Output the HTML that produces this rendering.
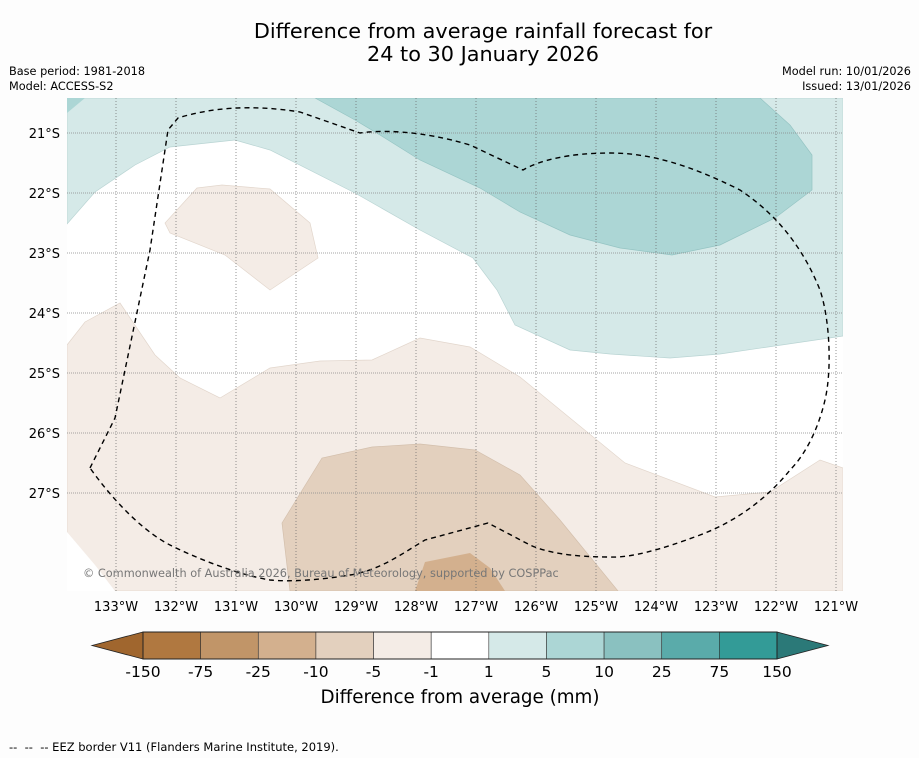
<!DOCTYPE html>
<html><head><meta charset="utf-8"><style>
body{margin:0;background:#fdfdfd;}
svg{display:block;font-family:"DejaVu Sans","Liberation Sans",sans-serif;}
</style></head><body>
<svg id="chart" width="919" height="758">
<rect width="919" height="758" fill="#fdfdfd"/>
<text x="483" y="38" text-anchor="middle" font-size="20.8">Difference from average rainfall forecast for</text>
<text x="483" y="61" text-anchor="middle" font-size="20.8">24 to 30 January 2026</text>
<text x="9" y="75" font-size="11.3">Base period: 1981-2018</text>
<text x="9" y="90" font-size="11.3">Model: ACCESS-S2</text>
<text x="911" y="75" font-size="11.3" text-anchor="end">Model run: 10/01/2026</text>
<text x="911" y="90" font-size="11.3" text-anchor="end">Issued: 13/01/2026</text>
<defs><clipPath id="mc"><rect x="67" y="98" width="776" height="493"/></clipPath></defs>
<g clip-path="url(#mc)">
<rect x="67" y="98" width="776" height="493" fill="#ffffff"/>
<polygon fill="#d5e9e8" stroke="#b9d4d3" stroke-width="0.7" points="67,98 843,98 843,336 720,354 670,358 610,354 570,350 515,325 497,290 473,258 420,230 355,193 270,150 235,140 170,147 135,165 95,192 67,224"/>
<polygon fill="#acd6d5" points="67,98 85,98 67,113"/>
<polygon fill="#acd6d5" stroke="#95c4c3" stroke-width="0.7" points="315,98 760,98 790,125 812,155 812,190 775,218 720,245 672,255 620,248 570,235 520,212 480,188 420,160 380,135 355,120"/>
<polygon fill="#f4ece6" stroke="#e2d6cc" stroke-width="0.7" points="197,188 222,185 270,189 310,223 318,258 270,290 225,255 170,233 165,223"/>
<polygon fill="#f4ece6" stroke="#e2d6cc" stroke-width="0.7" points="67,345 85,322 120,303 155,355 180,378 220,398 270,368 320,361 372,360 420,338 470,347 520,377 570,418 625,463 715,497 770,492 820,460 843,468 843,591 67,591"/>
<polygon fill="#ffffff" points="67,532 67,591 115,591 95,565"/>
<polygon fill="#e3d0be" stroke="#d3bfac" stroke-width="0.7" points="282,523 322,458 372,447 420,444 475,450 520,475 560,520 618,591 290,591"/>
<polygon fill="#d3b08e" points="415,591 425,562 470,553 490,568 505,591"/>
<g id="grid"></g>
<path fill="none" stroke="#000" stroke-width="1.4" stroke-dasharray="5,4" d="M90,468 L115,418 L150,250 L168,130 L178,118 C210,108 250,104 300,112 L360,133 C380,130 420,130 470,145 L523,170 C540,160 570,153 610,153 C650,153 690,165 740,190 C770,210 800,240 820,290 C830,320 832,370 825,400 C818,430 805,455 790,470 C770,495 740,520 700,535 C660,550 630,558 610,557 C570,557 545,552 530,545 L488,523 L425,540 C400,555 380,570 350,575 C320,580 290,582 270,580 C240,575 200,560 170,545 C150,535 120,510 90,468 Z"/>
<text x="83" y="577" font-size="11.3" fill="#777">© Commonwealth of Australia 2026, Bureau of Meteorology, supported by COSPPac</text>
</g>
<g id="xlabels"></g>
<g id="ylabels"></g>
<g id="cbar"></g>
<text x="460" y="703" text-anchor="middle" font-size="18.3">Difference from average (mm)</text>
<text x="9" y="751" font-size="11.5" xml:space="preserve">--  --  -- EEZ border V11 (Flanders Marine Institute, 2019).</text>
</svg>
<script>
const lonTicks=[133,132,131,130,129,128,127,126,125,124,123,122,121];
const latTicks=[21,22,23,24,25,26,27];
const cbarLevels=["-150","-75","-25","-10","-5","-1","1","5","10","25","75","150"];
const cbarColors=["#b07840","#c19568","#d3b08e","#e3d0be","#f4ece6","#ffffff","#d5e9e8","#acd6d5","#8ac1c0","#5aabaa","#339b97"];
const NS="http://www.w3.org/2000/svg";
function xLon(l){return 116+(133-l)*60;}
function yLat(l){return 133+(l-21)*60;}
function mk(t,a,p){const e=document.createElementNS(NS,t);for(const k in a)e.setAttribute(k,a[k]);p.appendChild(e);return e;}
const grid=document.getElementById('grid'),xl=document.getElementById('xlabels'),yl=document.getElementById('ylabels');
lonTicks.forEach(l=>{const x=xLon(l);
 const g=mk('line',{x1:x,x2:x,y1:98,y2:591,stroke:'#666','stroke-width':0.7,'stroke-dasharray':'1,2'},grid);
 
 
 const t=mk('text',{x:x,y:611,'text-anchor':'middle','font-size':13},xl);t.textContent=l+'°W';
 
 });
latTicks.forEach(l=>{const y=yLat(l);
 const g=mk('line',{x1:67,x2:843,y1:y,y2:y,stroke:'#888','stroke-width':0.7,'stroke-dasharray':'1,1'},grid);
 
 
 const t=mk('text',{x:60,y:y+5,'text-anchor':'end','font-size':13},yl);t.textContent=l+'°S';
 
 });
const cb=document.getElementById('cbar');const x0=143,x1=777,y0=632,h=27;const w=(x1-x0)/cbarColors.length;
let p=mk('polygon',{points:`92,${y0+h/2} ${x0},${y0} ${x0},${y0+h}`,fill:'#a0662e',stroke:'#222','stroke-width':0.8},cb);


cbarColors.forEach((c,i)=>{const r=mk('rect',{x:x0+i*w,y:y0,width:w,height:h,fill:c,stroke:'#333','stroke-width':0.6},cb);
 
 });
p=mk('polygon',{points:`${x1},${y0} 828,${y0+h/2} ${x1},${y0+h}`,fill:'#2b7978',stroke:'#222','stroke-width':0.8},cb);


mk('rect',{x:x0,y:y0,width:x1-x0,height:h,fill:'none',stroke:'#222','stroke-width':1},cb);
cbarLevels.forEach((s,i)=>{const t=mk('text',{x:x0+i*w,y:677,'text-anchor':'middle','font-size':15.5},cb);t.textContent=s;
 
 });
</script>
</body></html>
